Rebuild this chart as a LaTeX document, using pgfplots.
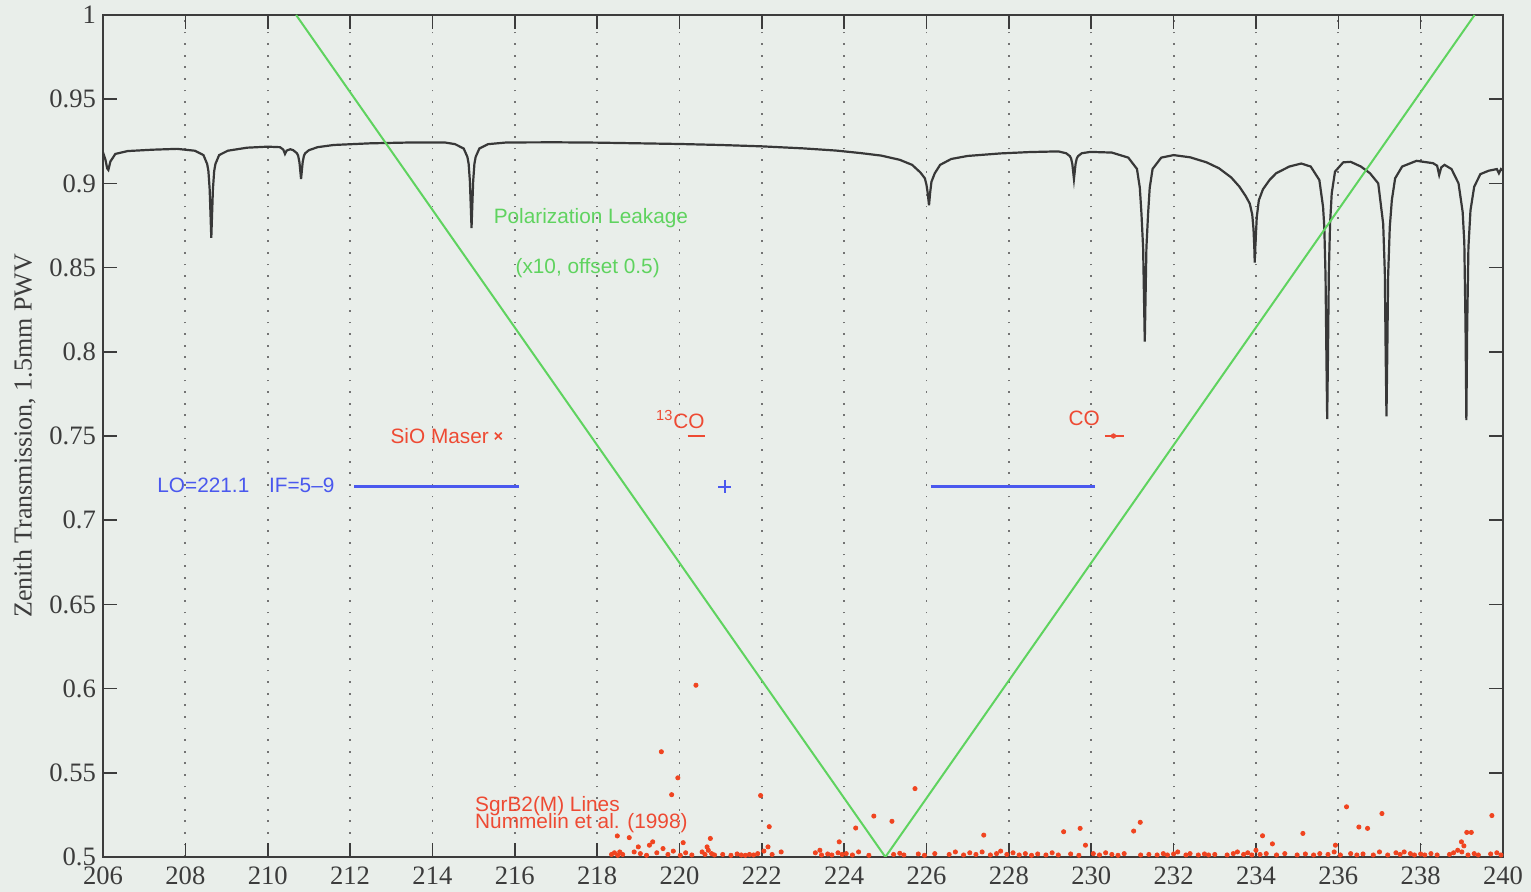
\documentclass[border=0pt]{standalone}
\usepackage{pgfplots}
\pgfplotsset{compat=1.18}
\usepackage{fontspec}
\setmainfont{Liberation Serif}
\newfontfamily\sfont{Liberation Sans}
\usetikzlibrary{backgrounds,calc}
\definecolor{bgc}{HTML}{E9EEEA}
\definecolor{axc}{HTML}{3C3C3C}
\definecolor{curvec}{HTML}{383838}
\definecolor{greenc}{HTML}{5FD35F}
\definecolor{bluec}{HTML}{4A58EE}
\definecolor{redc}{HTML}{EE4A33}
\definecolor{dotc}{HTML}{F04420}

\pgfplotstableread{
x y
206.00 0.9185
206.06 0.9140
206.10 0.9090
206.13 0.9080
206.18 0.9130
206.30 0.9175
206.60 0.9192
207.20 0.9200
207.80 0.9205
208.23 0.9194
208.44 0.9168
208.53 0.9115
208.56 0.9073
208.59 0.8967
208.61 0.8824
208.63 0.8676
208.65 0.8824
208.67 0.8967
208.70 0.9073
208.73 0.9115
208.82 0.9168
209.03 0.9194
209.50 0.9212
210.00 0.9218
210.30 0.9215
210.38 0.9200
210.42 0.9175
210.46 0.9195
210.55 0.9203
210.62 0.9197
210.71 0.9179
210.74 0.9164
210.77 0.9127
210.79 0.9078
210.81 0.9026
210.83 0.9078
210.85 0.9127
210.88 0.9164
210.91 0.9179
211.00 0.9197
211.21 0.9215
211.60 0.9228
212.50 0.9238
213.50 0.9243
214.30 0.9243
214.55 0.9233
214.76 0.9207
214.85 0.9157
214.88 0.9116
214.91 0.9014
214.93 0.8877
214.95 0.8735
214.97 0.8877
214.99 0.9014
215.02 0.9116
215.05 0.9157
215.14 0.9207
215.35 0.9233
215.80 0.9243
217.00 0.9244
218.00 0.9242
219.00 0.9238
220.00 0.9234
221.00 0.9228
222.00 0.9220
223.00 0.9208
223.80 0.9195
224.40 0.9180
224.90 0.9165
225.35 0.9140
225.65 0.9110
225.85 0.9065
225.96 0.9030
226.00 0.8990
226.03 0.8940
226.06 0.8870
226.09 0.8950
226.12 0.9010
226.20 0.9060
226.33 0.9110
226.60 0.9145
227.00 0.9163
227.80 0.9178
228.50 0.9186
229.20 0.9190
229.39 0.9179
229.48 0.9162
229.51 0.9149
229.54 0.9116
229.56 0.9072
229.58 0.9026
229.60 0.9072
229.62 0.9116
229.65 0.9149
229.68 0.9162
229.77 0.9179
229.98 0.9187
230.50 0.9183
230.90 0.9153
231.11 0.9086
231.18 0.8974
231.22 0.8818
231.26 0.8618
231.28 0.8339
231.30 0.8060
231.32 0.8339
231.34 0.8618
231.38 0.8818
231.42 0.8974
231.49 0.9086
231.70 0.9153
232.00 0.9168
232.40 0.9155
232.80 0.9125
233.10 0.9090
233.40 0.9035
233.60 0.8980
233.75 0.8925
233.85 0.8880
233.91 0.8815
233.94 0.8730
233.96 0.8620
233.97 0.8530
233.99 0.8650
234.02 0.8800
234.07 0.8900
234.17 0.8965
234.33 0.9020
234.49 0.9060
234.81 0.9100
235.10 0.9118
235.33 0.9100
235.54 0.9020
235.63 0.8860
235.66 0.8740
235.69 0.8450
235.71 0.8000
235.73 0.7600
235.75 0.8000
235.77 0.8470
235.80 0.8760
235.84 0.8940
235.92 0.9070
236.12 0.9125
236.30 0.9128
236.55 0.9100
236.77 0.9060
236.97 0.9000
237.09 0.8760
237.13 0.8470
237.15 0.8000
237.17 0.7616
237.19 0.8000
237.21 0.8450
237.25 0.8740
237.30 0.8900
237.38 0.9030
237.55 0.9100
237.90 0.9134
238.30 0.9120
238.40 0.9105
238.45 0.9050
238.50 0.9095
238.58 0.9110
238.75 0.9085
238.92 0.9000
239.02 0.8830
239.06 0.8650
239.09 0.8150
239.11 0.7595
239.13 0.8150
239.16 0.8620
239.21 0.8840
239.30 0.8980
239.45 0.9055
239.65 0.9075
239.85 0.9085
239.90 0.9060
239.95 0.9085
240.00 0.9075
}\transmission

\pgfplotstableread{
x y
220.40 0.6020
219.56 0.5625
219.96 0.5470
219.81 0.5370
221.97 0.5365
222.18 0.5180
225.72 0.5406
224.72 0.5243
225.16 0.5212
224.28 0.5172
218.49 0.5125
218.78 0.5115
220.75 0.5110
220.09 0.5085
219.35 0.5090
219.27 0.5070
219.00 0.5060
218.90 0.5030
219.60 0.5050
220.67 0.5060
222.15 0.5060
223.88 0.5090
222.47 0.5030
223.41 0.5040
227.39 0.5130
229.33 0.5150
229.73 0.5170
231.03 0.5154
231.19 0.5206
234.16 0.5126
234.40 0.5078
235.14 0.5140
236.20 0.5298
236.50 0.5178
236.71 0.5170
237.06 0.5258
239.12 0.5146
239.23 0.5146
238.99 0.5090
239.05 0.5066
239.73 0.5246
229.86 0.5070
235.93 0.5070
218.35 0.5015
218.42 0.5025
218.50 0.5010
218.55 0.5030
218.62 0.5015
219.05 0.5020
219.20 0.5010
219.45 0.5025
219.72 0.5015
219.85 0.5035
220.02 0.5010
220.15 0.5025
220.30 0.5012
220.55 0.5030
220.62 0.5015
220.70 0.5040
220.78 0.5020
220.85 0.5012
221.05 0.5015
221.25 0.5010
221.40 0.5018
221.50 0.5012
221.60 0.5010
221.70 0.5015
221.80 0.5012
221.90 0.5020
222.05 0.5035
222.25 0.5015
223.30 0.5025
223.45 0.5012
223.60 0.5018
223.70 0.5012
223.85 0.5025
223.95 0.5015
224.05 0.5020
224.20 0.5012
224.35 0.5030
224.60 0.5010
225.20 0.5015
225.35 0.5022
225.45 0.5012
225.80 0.5018
225.95 0.5010
226.20 0.5020
226.55 0.5015
226.70 0.5030
226.90 0.5012
227.05 0.5025
227.20 0.5015
227.35 0.5030
227.55 0.5012
227.70 0.5020
227.80 0.5035
227.95 0.5015
228.10 0.5025
228.25 0.5012
228.40 0.5020
228.55 0.5010
228.70 0.5018
228.90 0.5012
229.05 0.5025
229.20 0.5012
229.50 0.5018
229.70 0.5010
230.05 0.5020
230.20 0.5012
230.35 0.5025
230.50 0.5015
230.65 0.5010
230.80 0.5020
231.20 0.5012
231.40 0.5015
231.60 0.5012
231.75 0.5020
231.85 0.5012
232.00 0.5018
232.10 0.5030
232.30 0.5012
232.40 0.5020
232.60 0.5012
232.75 0.5018
232.85 0.5012
233.00 0.5015
233.30 0.5012
233.45 0.5020
233.55 0.5030
233.70 0.5015
233.80 0.5025
233.90 0.5012
234.00 0.5040
234.10 0.5015
234.25 0.5020
234.50 0.5012
234.70 0.5020
235.00 0.5012
235.20 0.5018
235.40 0.5012
235.55 0.5020
235.75 0.5015
235.90 0.5030
236.05 0.5012
236.30 0.5020
236.45 0.5012
236.60 0.5018
236.85 0.5012
237.00 0.5030
237.20 0.5012
237.40 0.5025
237.50 0.5015
237.60 0.5030
237.75 0.5020
237.85 0.5012
238.00 0.5018
238.10 0.5012
238.25 0.5020
238.40 0.5012
238.70 0.5015
238.80 0.5025
238.90 0.5040
239.00 0.5030
239.15 0.5012
239.30 0.5020
239.40 0.5012
239.70 0.5018
239.85 0.5025
239.95 0.5012
}\sgrlines

\begin{document}
\begin{tikzpicture}[background rectangle/.style={fill=bgc}, show background rectangle, inner frame sep=0pt]
\begin{axis}[
  width=700pt, height=421pt, scale only axis,
  xmin=206, xmax=240, ymin=0.5, ymax=1,
  xtick={206,208,210,212,214,216,218,220,222,224,226,228,230,232,234,236,238,240},
  ytick={0.5,0.55,0.6,0.65,0.7,0.75,0.8,0.85,0.9,0.95,1},
  tick align=inside, xtick pos=both, ytick pos=both,
  major tick length=7pt,
  xmajorgrids,
  major grid style={draw=black!55, line width=0.9pt, dash pattern=on 0.9pt off 4.9pt},
  axis line style={draw=axc, line width=1pt},
  tick style={draw=axc, line width=0.8pt},
  ticklabel style={font=\fontsize{13.3}{15}\selectfont, text=axc},
  xticklabel style={yshift=-1.5pt},
  /pgf/number format/assume math mode=true,
  /pgf/number format/fixed,
  /pgf/number format/precision=2,
  ylabel={Zenith Transmission, 1.5mm PWV},
  ylabel style={font=\fontsize{13}{15}\selectfont, text=axc},
  axis background/.style={fill=bgc},
]
\coordinate (bl) at (rel axis cs:0,0);
\coordinate (tr) at (rel axis cs:1,1);
% atmospheric transmission
\addplot[curvec, line width=1.1pt, no markers] table[x=x,y=y] {\transmission};
% polarization leakage
\addplot[greenc, line width=1pt, no markers] coordinates {(210.69,1) (225.0,0.5) (239.31,1)};
% IF bands
\addplot[bluec, line width=1.3pt, no markers] coordinates {(212.1,0.72) (216.1,0.72)};
\addplot[bluec, line width=1.3pt, no markers] coordinates {(226.1,0.72) (230.1,0.72)};
\addplot[bluec, line width=1pt, only marks, mark=+, mark size=3.3pt] coordinates {(221.1,0.72)};
% lines
\addplot[redc, line width=0.8pt, only marks, mark=x, mark size=2.4pt] coordinates {(215.6,0.75)};
\addplot[redc, line width=1.1pt, no markers] coordinates {(220.20,0.75) (220.62,0.75)};
\addplot[redc, line width=1.1pt, no markers] coordinates {(230.33,0.75) (230.79,0.75)};
\addplot[redc, only marks, mark=*, mark size=1.1pt] coordinates {(230.54,0.75)};
% SgrB2 lines
\addplot[dotc, only marks, mark=*, mark size=1.05pt] table[x=x,y=y] {\sgrlines};
% labels
\node[anchor=base, text=greenc, inner sep=0pt, font=\sfont\fontsize{10.4}{12}\selectfont] at (axis cs:217.85,0.8763) {Polarization Leakage};
\node[anchor=base, text=greenc, inner sep=0pt, font=\sfont\fontsize{10.4}{12}\selectfont] at (axis cs:217.77,0.8466) {(x10, offset 0.5)};
\node[anchor=base east, text=bluec, inner sep=0pt, font=\sfont\fontsize{10.4}{12}\selectfont] at (axis cs:211.63,0.7163) {LO=221.1\hspace{0.95em}IF=5\textendash 9};
\node[anchor=base east, text=redc, inner sep=0pt, font=\sfont\fontsize{10.4}{12}\selectfont] at (axis cs:215.38,0.7455) {SiO Maser};
\node[anchor=base east, text=redc, inner sep=0pt, font=\sfont\fontsize{10.4}{12}\selectfont] at (axis cs:220.62,0.7547) {\textsuperscript{13}CO};
\node[anchor=base east, text=redc, inner sep=0pt, font=\sfont\fontsize{10.4}{12}\selectfont] at (axis cs:230.22,0.7565) {CO};
\node[anchor=base west, text=redc, inner sep=0pt, font=\sfont\fontsize{10.4}{12}\selectfont] at (axis cs:215.03,0.5269) {SgrB2(M) Lines};
\node[anchor=base west, text=redc, inner sep=0pt, font=\sfont\fontsize{10.4}{12}\selectfont] at (axis cs:215.03,0.5170) {Nummelin et al. (1998)};
\end{axis}
\pgfresetboundingbox
\path ($(bl)+(-51.5pt,-17.5pt)$) rectangle ($(tr)+(14pt,7.5pt)$);
\end{tikzpicture}
\end{document}
